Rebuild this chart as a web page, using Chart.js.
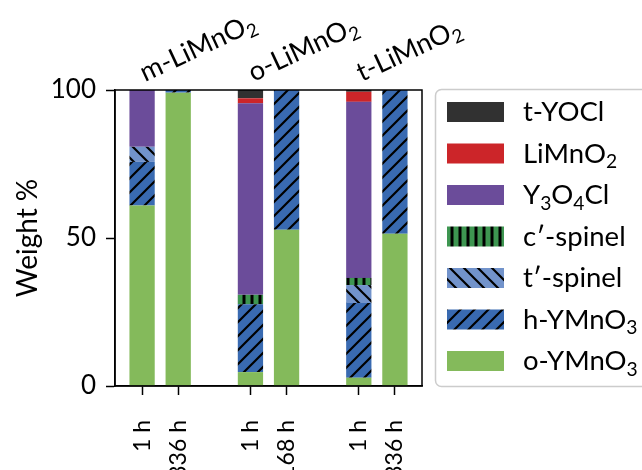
<!DOCTYPE html>
<html>
<head>
<meta charset="utf-8">
<script src="https://cdn.jsdelivr.net/npm/chart.js@4.4.0/dist/chart.umd.min.js"></script>
<style>
    html, body { margin: 0; padding: 0; background: #fff; }
    #wrap { width: 642px; height: 470px; position: relative; }
</style>
</head>
<body>
<div id="wrap"><canvas id="phaseChart" width="642" height="470"></canvas></div>
<script>
// x positions of the bars (gaps at 2 and 5 separate the precursors)
const positions = [0, 1, 3, 4, 6, 7];
const timeLabels = ['1 h', '336 h', '1 h', '168 h', '1 h', '336 h'];
const groupLabels = ['m-LiMnO2', 'o-LiMnO2', 't-LiMnO2'];
const groupPositions = [0, 3, 6];
const yTicks = [0, 50, 100];

// weight % per phase, stacked bottom to top
const oYMnO3 = [61.0, 99.1, 4.7, 52.8, 2.8, 51.4];
const hYMnO3 = [14.7, 0.9, 22.9, 47.2, 25.2, 48.6];
const tSpinel = [5.1, 0, 0, 0, 6.1, 0];
const cSpinel = [0, 0, 3.2, 0, 2.4, 0];
const Y3O4Cl = [19.2, 0, 64.7, 0, 59.5, 0];
const LiMnO2 = [0, 0, 1.7, 0, 3.4, 0];
const tYOCl = [0, 0, 2.8, 0, 0.6, 0];

const FONT = 'Lato';
const FS = 26;

const canvas = document.getElementById('phaseChart');
const mainCtx = canvas.getContext('2d');

function hatch(color, kind) {
    const s = kind === '|' ? 8 : 14;
    const tile = document.createElement('canvas');
    tile.width = s;
    tile.height = s;
    const g = tile.getContext('2d');
    g.fillStyle = color;
    g.fillRect(0, 0, s, s);
    g.strokeStyle = '#000';
    g.beginPath();
    if (kind === '|') {
        g.lineWidth = 3;
        g.moveTo(s / 2, 0);
        g.lineTo(s / 2, s);
    } else {
        g.lineWidth = 2.2;
        if (kind === '\\') {
            g.translate(s, 0);
            g.scale(-1, 1);
        }
        [0, s, 2 * s].forEach(k => {
            g.moveTo(-1, k + 1);
            g.lineTo(k + 1, -1);
        });
    }
    g.stroke();
    return mainCtx.createPattern(tile, 'repeat');
}

const series = [
    { name: 'o-YMnO3', values: oYMnO3, fill: '#84ba5b' },
    { name: 'h-YMnO3', values: hYMnO3, fill: hatch('#396ab1', '/') },
    { name: 't\u2032-spinel', values: tSpinel, fill: hatch('#7293cb', '\\') },
    { name: 'c\u2032-spinel', values: cSpinel, fill: hatch('#3e9651', '|') },
    { name: 'Y3O4Cl', values: Y3O4Cl, fill: '#6b4c9a' },
    { name: 'LiMnO2', values: LiMnO2, fill: '#cc2529' },
    { name: 't-YOCl', values: tYOCl, fill: '#313131' }
];

// split text so that digits right after a letter are drawn as subscripts
function runs(str) {
    const out = [];
    for (let i = 0; i < str.length; i++) {
        const sub = /[0-9]/.test(str[i]) && i > 0 && /[A-Za-z]/.test(str[i - 1]);
        const last = out[out.length - 1];
        if (last && last.sub === sub) last.text += str[i];
        else out.push({ text: str[i], sub: sub });
    }
    return out;
}

function drawRich(ctx, str, x, y, size) {
    let cx = x;
    runs(str).forEach(r => {
        const fs = r.sub ? size * 0.7 : size;
        ctx.font = fs + 'px ' + FONT;
        ctx.fillText(r.text, cx, r.sub ? y + size * 0.2 : y);
        cx += ctx.measureText(r.text).width;
    });
}

const decorations = {
    id: 'decorations',
    afterDatasetsDraw(chart) {
        const ctx = chart.ctx;
        const a = chart.chartArea;
        ctx.save();
        ctx.strokeStyle = '#000';
        ctx.lineWidth = 1.5;
        ctx.strokeRect(a.left, a.top, a.right - a.left, a.bottom - a.top);
        ctx.restore();
    },
    afterDraw(chart) {
        const ctx = chart.ctx;
        const xs = chart.scales.x;
        ctx.save();
        ctx.fillStyle = '#000';
        ctx.textBaseline = 'alphabetic';
        ctx.textAlign = 'left';

        // precursor names above the groups
        groupLabels.forEach((lab, i) => {
            ctx.save();
            ctx.translate(xs.getPixelForValue(groupPositions[i]) + 3, 82);
            ctx.rotate(-25 * Math.PI / 180);
            drawRich(ctx, lab, 0, 0, 27);
            ctx.restore();
        });

        // y axis title
        ctx.save();
        ctx.translate(37, (chart.chartArea.top + chart.chartArea.bottom) / 2);
        ctx.rotate(-Math.PI / 2);
        ctx.textAlign = 'center';
        ctx.font = '28px ' + FONT;
        ctx.fillText('Weight %', 0, 0);
        ctx.restore();

        // legend box
        ctx.strokeStyle = '#cccccc';
        ctx.lineWidth = 1.5;
        ctx.beginPath();
        ctx.roundRect(435.5, 89.5, 220, 297, 6);
        ctx.stroke();

        const items = series.slice().reverse();
        items.forEach((s, i) => {
            const cy = 112 + i * 41.5;
            ctx.fillStyle = s.fill;
            ctx.fillRect(447, cy - 10, 57, 20);
            ctx.fillStyle = '#000';
            drawRich(ctx, s.name, 523, cy + 9, 27.5);
        });
        ctx.restore();
    }
};

Chart.defaults.font.family = FONT;
Chart.defaults.color = '#000';

new Chart(mainCtx, {
    type: 'bar',
    data: {
        datasets: series.map(s => ({
            label: s.name,
            data: positions.map((p, i) => ({ x: p, y: s.values[i] })),
            backgroundColor: s.fill,
            borderWidth: 0,
            barPercentage: 0.7,
            categoryPercentage: 1
        }))
    },
    options: {
        responsive: false,
        animation: false,
        layout: { padding: { top: 90, right: 220, left: 0, bottom: 0 } },
        plugins: {
            legend: { display: false },
            tooltip: { enabled: false }
        },
        scales: {
            x: {
                type: 'linear',
                stacked: true,
                offset: false,
                min: -0.75,
                max: 7.75,
                afterBuildTicks: scale => {
                    scale.ticks = positions.map(v => ({ value: v }));
                },
                afterFit: scale => { scale.height = 84; },
                ticks: {
                    autoSkip: false,
                    minRotation: 90,
                    maxRotation: 90,
                    padding: 25,
                    font: { size: 23 },
                    callback: v => timeLabels[positions.indexOf(v)]
                },
                grid: {
                    offset: false,
                    drawOnChartArea: false,
                    tickLength: 9,
                    tickColor: '#000',
                    tickWidth: 1.5
                },
                border: { color: '#000', width: 1.5 }
            },
            y: {
                stacked: true,
                min: 0,
                max: 100,
                afterBuildTicks: scale => {
                    scale.ticks = yTicks.map(v => ({ value: v }));
                },
                afterFit: scale => { scale.width = 115; },
                ticks: {
                    padding: 10,
                    font: { size: FS }
                },
                grid: {
                    drawOnChartArea: false,
                    tickLength: 9,
                    tickColor: '#000',
                    tickWidth: 1.5
                },
                border: { color: '#000', width: 1.5 }
            }
        }
    },
    plugins: [decorations]
});
</script>
</body>
</html>
